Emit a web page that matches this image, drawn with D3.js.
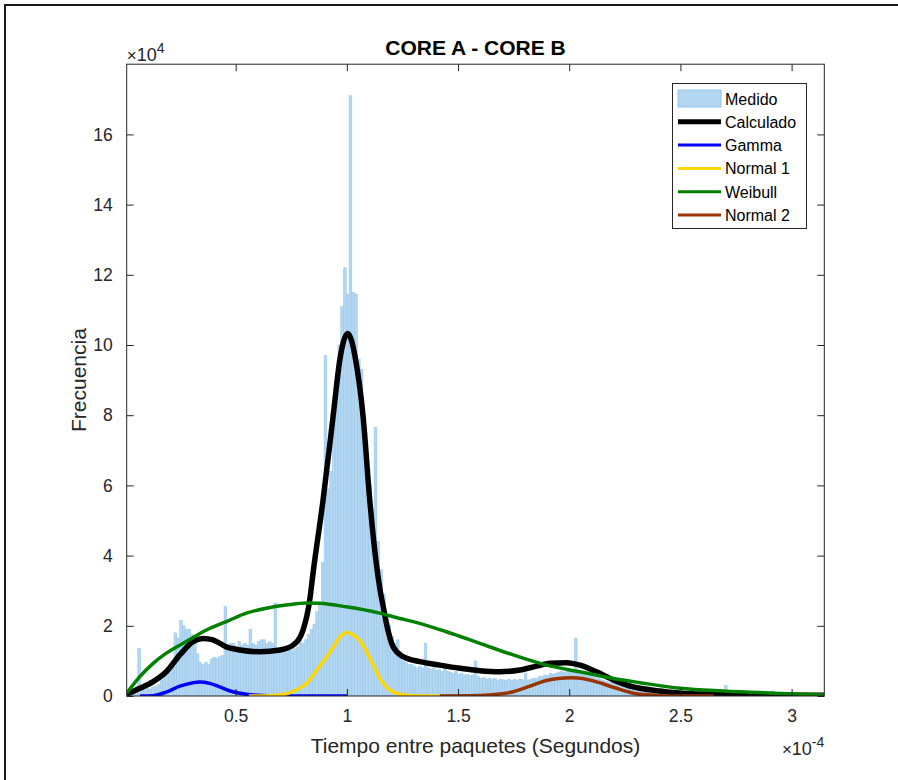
<!DOCTYPE html>
<html>
<head>
<meta charset="utf-8">
<script src="https://cdn.jsdelivr.net/npm/d3@7"></script>
<style>
  html, body { margin: 0; padding: 0; background: #fff; }
  svg { display: block; }
  text { font-family: "Liberation Sans", Arial, Helvetica, sans-serif; }
</style>
</head>
<body>
<svg id="chart" width="898" height="780"></svg>
<script>
// ---- Data (x in units of 1e-4 s, frequency in units of 1e4) ----
const histStart = 0.01;     // left edge of first bin
const histBinWidth = 0.0125; // bin width
const histCounts = [
  0.05, 0.1, 0.12, 0.15, 1.35, 0.18, 0.2, 0.22, 0.2, 0.25,
  0.28, 0.33, 0.45, 0.55, 0.7, 0.85, 1.0, 1.8, 1.65, 2.15,
  2.0, 1.9, 1.9, 1.75, 1.5, 1.2, 0.95, 0.9, 0.95, 0.9,
  1.05, 1.1, 1.08, 1.12, 1.15, 2.55, 1.45, 1.5, 1.5, 1.4,
  1.55, 1.45, 1.5, 1.45, 1.9, 1.5, 1.45, 1.55, 1.6, 1.6,
  1.5, 1.55, 1.5, 2.65, 1.35, 1.3, 1.35, 1.25, 1.3, 1.3,
  1.35, 1.4, 1.65, 1.5, 1.6, 1.75, 1.9, 2.05, 2.4, 2.6,
  3.8, 9.7, 5.9, 6.4, 7.7, 8.8, 10.0, 11.1, 12.2, 11.45,
  17.1, 11.5, 11.45, 9.6, 9.3, 8.0, 6.9, 6.0, 5.3, 7.65,
  4.4, 3.6, 2.9, 2.3, 2.0, 1.7, 1.5, 1.6, 1.2, 1.0,
  0.95, 0.9, 0.9, 0.85, 0.8, 0.85, 0.8, 1.5, 0.8, 0.75,
  0.8, 0.72, 0.75, 0.7, 0.78, 0.7, 0.68, 0.65, 0.7, 0.62,
  0.65, 0.6, 0.62, 0.58, 0.6, 1.0, 0.55, 0.5, 0.52, 0.48,
  0.5, 0.47, 0.5, 0.45, 0.48, 0.46, 0.45, 0.48, 0.45, 0.47,
  0.44, 0.48, 0.46, 0.65, 0.45, 0.48, 0.5, 0.5, 0.55, 0.55,
  0.6, 0.58, 0.65, 0.62, 0.65, 0.68, 0.7, 0.68, 0.72, 0.7,
  0.75, 1.65, 0.68, 0.65, 0.62, 0.6, 0.58, 0.55, 0.52, 0.5,
  0.47, 0.45, 0.42, 0.4, 0.38, 0.36, 0.35, 0.33, 0.32, 0.3,
  0.29, 0.28, 0.27, 0.26, 0.25, 0.24, 0.23, 0.22, 0.21, 0.2,
  0.2, 0.19, 0.18, 0.18, 0.17, 0.16, 0.16, 0.15, 0.15, 0.14,
  0.14, 0.13, 0.13, 0.12, 0.12, 0.11, 0.11, 0.1, 0.1, 0.1,
  0.09, 0.09, 0.09, 0.08, 0.08, 0.3, 0.08, 0.08, 0.07, 0.07,
  0.07, 0.07, 0.06, 0.06, 0.06, 0.06, 0.06, 0.05, 0.05, 0.05,
  0.05, 0.05, 0.14, 0.05, 0.05, 0.04, 0.04, 0.04, 0.04, 0.04,
  0.04, 0.03, 0.03, 0.03, 0.03, 0.03, 0.03, 0.03, 0.03, 0.03,
  0.03, 0.03
];

const calculadoX = [0.01, 0.069, 0.129, 0.188, 0.249, 0.308, 0.353, 0.398, 0.458, 0.519,
  0.609, 0.699, 0.758, 0.803, 0.833, 0.848, 0.893, 0.938, 0.969, 0.985,
  1.003, 1.02, 1.036, 1.073, 1.103, 1.13, 1.15, 1.165, 1.178, 1.208,
  1.253, 1.328, 1.418, 1.508, 1.598, 1.688, 1.778, 1.852, 1.913, 1.988,
  2.048, 2.123, 2.198, 2.288, 2.318, 2.408, 2.498, 2.65, 2.8, 3.0, 3.147];
const calculadoY = [0.05, 0.22, 0.41, 0.69, 1.17, 1.55, 1.64, 1.6, 1.4, 1.31,
  1.26, 1.31, 1.45, 1.88, 2.73, 3.5, 5.58, 7.96, 9.6, 10.1,
  10.33, 10.15, 9.7, 7.96, 5.58, 3.9, 3.0, 2.5, 2.07, 1.4,
  1.12, 0.98, 0.88, 0.79, 0.72, 0.69, 0.74, 0.85, 0.93, 0.95,
  0.88, 0.69, 0.46, 0.26, 0.22, 0.14, 0.08, 0.05, 0.03, 0.02, 0.02];

const gammaX = [0.07, 0.13, 0.19, 0.249, 0.309, 0.338, 0.383, 0.428, 0.488, 0.548, 0.62, 0.75, 1.0];
const gammaY = [0.0, 0.01, 0.12, 0.28, 0.38, 0.40, 0.36, 0.26, 0.12, 0.05, 0.015, 0.0, 0.0];

const normal1X = [0.56, 0.65, 0.72, 0.78, 0.82, 0.86, 0.91, 0.95, 0.97, 1.0,
  1.03, 1.06, 1.09, 1.12, 1.148, 1.18, 1.21, 1.25, 1.3, 1.42];
const normal1Y = [0.0, 0.01, 0.05, 0.2, 0.36, 0.7, 1.12, 1.5, 1.69, 1.81,
  1.74, 1.57, 1.25, 0.86, 0.5, 0.24, 0.11, 0.04, 0.01, 0.0];

const weibullX = [0.01, 0.069, 0.129, 0.188, 0.278, 0.369, 0.458, 0.548, 0.638, 0.728,
  0.818, 0.878, 0.998, 1.148, 1.238, 1.298, 1.448, 1.598, 1.748, 1.898,
  2.048, 2.198, 2.318, 2.498, 2.693, 2.918, 3.147];
const weibullY = [0.08, 0.55, 0.93, 1.22, 1.55, 1.88, 2.12, 2.36, 2.5, 2.59,
  2.65, 2.64, 2.54, 2.36, 2.21, 2.12, 1.83, 1.5, 1.17, 0.88,
  0.69, 0.5, 0.38, 0.22, 0.14, 0.08, 0.03];

const normal2X = [1.418, 1.55, 1.643, 1.748, 1.823, 1.898, 1.95, 2.01, 2.06, 2.108,
  2.198, 2.288, 2.318, 2.4, 2.5, 2.65];
const normal2Y = [0.0, 0.005, 0.03, 0.12, 0.28, 0.44, 0.5, 0.52, 0.5, 0.43,
  0.25, 0.08, 0.05, 0.015, 0.0, 0.0];

const xTicks = [0.5, 1, 1.5, 2, 2.5, 3];
const xTickLabels = ["0.5", "1", "1.5", "2", "2.5", "3"];
const yTicks = [0, 2, 4, 6, 8, 10, 12, 14, 16];
const yTickLabels = ["0", "2", "4", "6", "8", "10", "12", "14", "16"];

const legendLabels = ["Medido", "Calculado", "Gamma", "Normal 1", "Weibull", "Normal 2"];

// ---- Layout ----
const svg = d3.select("#chart");
const W = 898, H = 780;
const plot = { left: 126.7, right: 824.3, top: 64.2, bottom: 696 };
const axisColor = "#262626";

const x = d3.scaleLinear().domain([0.01, 3.147]).range([plot.left, plot.right]);
const y = d3.scaleLinear().domain([0, 18]).range([plot.bottom, plot.top]);

// figure frame
svg.append("line").attr("x1", 4).attr("x2", W).attr("y1", 5).attr("y2", 5)
  .attr("stroke", "#1a1a1a").attr("stroke-width", 2);
svg.append("line").attr("x1", 5).attr("x2", 5).attr("y1", 4).attr("y2", H)
  .attr("stroke", "#1a1a1a").attr("stroke-width", 2);

svg.append("defs").append("clipPath").attr("id", "plotClip")
  .append("rect")
  .attr("x", plot.left).attr("y", plot.top)
  .attr("width", plot.right - plot.left).attr("height", plot.bottom - plot.top);

const g = svg.append("g").attr("clip-path", "url(#plotClip)");

// histogram bars
const barFill = "#b3d6f1", barStroke = "#95c6ec";
const bins = histCounts.map((v, i) => ({ x0: histStart + i * histBinWidth, x1: histStart + (i + 1) * histBinWidth, v }));
g.selectAll("rect.bar").data(bins).join("rect")
  .attr("class", "bar")
  .attr("x", d => x(d.x0))
  .attr("width", d => x(d.x1) - x(d.x0))
  .attr("y", d => y(d.v))
  .attr("height", d => y(0) - y(d.v))
  .attr("fill", barFill)
  .attr("stroke", barStroke)
  .attr("stroke-width", 0.5);

// fitted curves
const curves = [
  { xs: calculadoX, ys: calculadoY, color: "#000000", width: 5.5 },
  { xs: gammaX, ys: gammaY, color: "#0000ff", width: 3.5 },
  { xs: normal1X, ys: normal1Y, color: "#ffd700", width: 3.5 },
  { xs: weibullX, ys: weibullY, color: "#008000", width: 3.5 },
  { xs: normal2X, ys: normal2Y, color: "#993300", width: 3.5 }
];
const line = d3.line().x(d => x(d[0])).y(d => y(d[1])).curve(d3.curveMonotoneX);
curves.forEach(c => {
  g.append("path")
    .datum(c.xs.map((v, i) => [v, c.ys[i]]))
    .attr("d", line)
    .attr("fill", "none")
    .attr("stroke", c.color)
    .attr("stroke-width", c.width)
    .attr("stroke-linejoin", "round");
});

// axes box
svg.append("rect")
  .attr("x", plot.left).attr("y", plot.top)
  .attr("width", plot.right - plot.left).attr("height", plot.bottom - plot.top)
  .attr("fill", "none").attr("stroke", axisColor).attr("stroke-width", 1);

const tickLen = 7;
const xAxisB = d3.axisBottom(x).tickValues(xTicks).tickSize(-tickLen).tickPadding(14)
  .tickFormat((d, i) => xTickLabels[i]);
const xAxisT = d3.axisTop(x).tickValues(xTicks).tickSize(-tickLen).tickFormat("");
const yAxisL = d3.axisLeft(y).tickValues(yTicks).tickSize(-tickLen).tickPadding(14)
  .tickFormat((d, i) => yTickLabels[i]);
const yAxisR = d3.axisRight(y).tickValues(yTicks).tickSize(-tickLen).tickFormat("");

function styleAxis(sel) {
  sel.select(".domain").remove();
  sel.selectAll(".tick line").attr("stroke", axisColor).attr("stroke-width", 1);
  sel.selectAll(".tick text").attr("fill", axisColor)
    .style("font-size", "17.5px")
    .style("font-family", "'Liberation Sans', Arial, Helvetica, sans-serif");
}
svg.append("g").attr("transform", `translate(0,${plot.bottom})`).call(xAxisB).call(styleAxis);
svg.append("g").attr("transform", `translate(0,${plot.top})`).call(xAxisT).call(styleAxis);
svg.append("g").attr("transform", `translate(${plot.left},0)`).call(yAxisL).call(styleAxis);
svg.append("g").attr("transform", `translate(${plot.right},0)`).call(yAxisR).call(styleAxis);

// exponent labels
const expTop = svg.append("text").attr("x", plot.left).attr("y", 61).attr("fill", axisColor).style("font-size", "18px");
expTop.append("tspan").text("\u00d7").style("font-size", "17px");
expTop.append("tspan").text("10");
expTop.append("tspan").text("4").attr("dy", -8).style("font-size", "14px");

const expBot = svg.append("text").attr("x", plot.right).attr("y", 755).attr("text-anchor", "end")
  .attr("fill", axisColor).style("font-size", "18px");
expBot.append("tspan").text("\u00d7").style("font-size", "17px");
expBot.append("tspan").text("10");
expBot.append("tspan").text("-4").attr("dy", -8).style("font-size", "14px");

// title and axis labels
svg.append("text")
  .attr("x", (plot.left + plot.right) / 2).attr("y", 55)
  .attr("text-anchor", "middle")
  .attr("fill", "#000")
  .style("font-size", "21px").style("font-weight", "bold")
  .text("CORE A - CORE B");

svg.append("text")
  .attr("x", (plot.left + plot.right) / 2).attr("y", 753)
  .attr("text-anchor", "middle").attr("fill", axisColor)
  .style("font-size", "21px")
  .text("Tiempo entre paquetes (Segundos)");

svg.append("text")
  .attr("transform", `translate(86,${(plot.top + plot.bottom) / 2}) rotate(-90)`)
  .attr("text-anchor", "middle").attr("fill", axisColor)
  .style("font-size", "21px")
  .text("Frecuencia");

// legend
const lg = svg.append("g");
const lgBox = { x: 672.5, y: 83.5, w: 134, h: 145 };
lg.append("rect").attr("x", lgBox.x).attr("y", lgBox.y).attr("width", lgBox.w).attr("height", lgBox.h)
  .attr("fill", "#fff").attr("stroke", axisColor).attr("stroke-width", 1);
const rowY = d3.scalePoint().domain(legendLabels).range([98.5, 215]);
const legendStyles = [
  { type: "patch" },
  { type: "line", color: "#000000", width: 5 },
  { type: "line", color: "#0000ff", width: 3 },
  { type: "line", color: "#ffd700", width: 3 },
  { type: "line", color: "#008000", width: 3 },
  { type: "line", color: "#993300", width: 3 }
];
legendLabels.forEach((lab, i) => {
  const cy = rowY(lab);
  const s = legendStyles[i];
  if (s.type === "patch") {
    lg.append("rect").attr("x", 678).attr("y", cy - 8.5).attr("width", 43).attr("height", 17)
      .attr("fill", barFill).attr("stroke", barStroke).attr("stroke-width", 1);
  } else {
    lg.append("line").attr("x1", 678).attr("x2", 721).attr("y1", cy).attr("y2", cy)
      .attr("stroke", s.color).attr("stroke-width", s.width);
  }
  lg.append("text").attr("x", 725).attr("y", cy + 6)
    .attr("fill", "#000").style("font-size", "16px").text(lab);
});
</script>
</body>
</html>
